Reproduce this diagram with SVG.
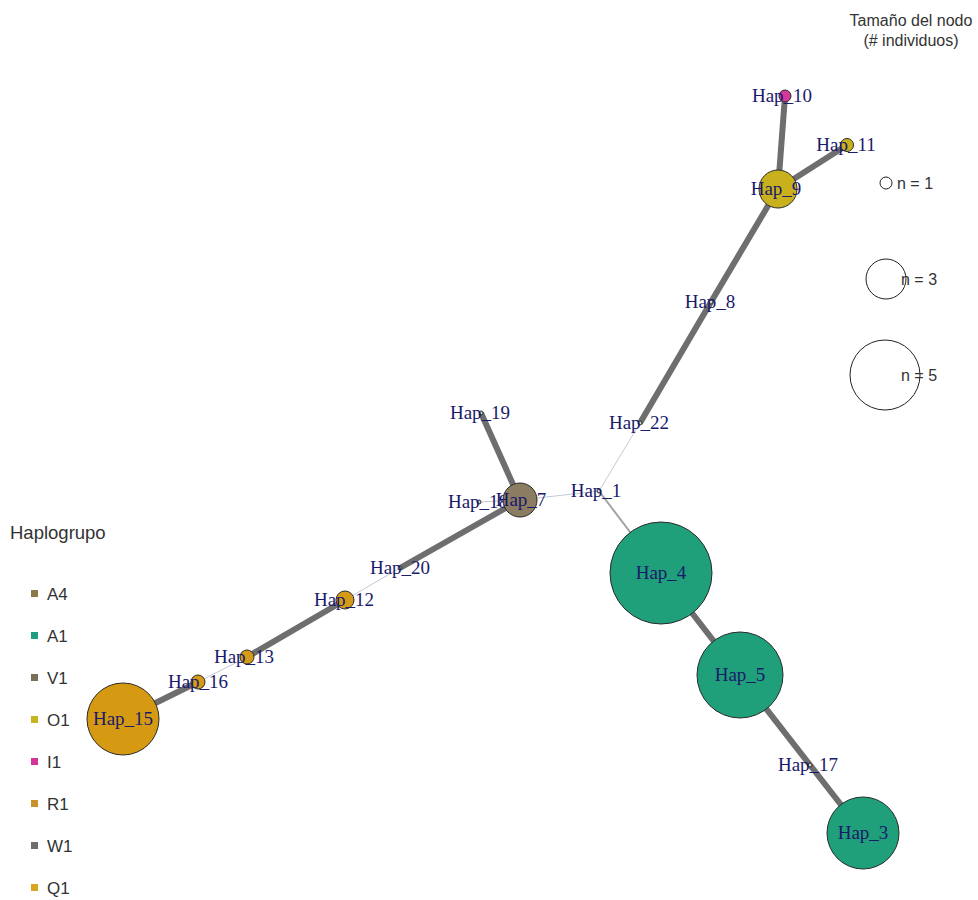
<svg xmlns="http://www.w3.org/2000/svg" width="978" height="900" viewBox="0 0 978 900">
<style>
.thick{stroke:#6e6e6e;stroke-width:6;fill:none}
.thin{stroke:#c5c9d6;stroke-width:1;fill:none}
.mid{stroke:#a3a3a3;stroke-width:2;fill:none}
.node{stroke:#2a2a2a;stroke-width:1}
.dot{fill:#d8d8c8;stroke:#2a2a2a;stroke-width:1}
.lbl{font-family:"Liberation Serif","Times New Roman",serif;font-size:19px;fill:#1a1a6a;text-anchor:middle}
.leg{font-family:"Liberation Sans",Arial,sans-serif;font-size:16px;fill:#333}
.item{font-family:"Liberation Sans",Arial,sans-serif;font-size:17px;fill:#333}
.ring{fill:none;stroke:#222;stroke-width:1}
</style>
<rect width="978" height="900" fill="#ffffff"/>
<g id="connectors">
<line class="thick" x1="785" y1="96" x2="778" y2="189"/>
<line class="thick" x1="847" y1="145" x2="778" y2="189"/>
<line class="thick" x1="778" y1="189" x2="711" y2="302"/>
<line class="thick" x1="711" y1="302" x2="640" y2="423"/>
<line class="thin" x1="640" y1="423" x2="599" y2="491"/>
<line class="thin" x1="599" y1="491" x2="520" y2="500"/>
<line class="mid" x1="599" y1="491" x2="661" y2="573"/>
<line class="thick" x1="520" y1="500" x2="481" y2="413"/>
<line class="thin" x1="479" y1="502" x2="520" y2="500"/>
<line class="thick" x1="520" y1="500" x2="400" y2="568"/>
<line class="thin" x1="400" y1="568" x2="345" y2="600"/>
<line class="thick" x1="345" y1="600" x2="247" y2="657"/>
<line class="thin" x1="247" y1="657" x2="198" y2="682"/>
<line class="thick" x1="198" y1="682" x2="123" y2="719"/>
<line class="thick" x1="661" y1="573" x2="740" y2="675"/>
<line class="thick" x1="740" y1="675" x2="810" y2="765"/>
<line class="thick" x1="810" y1="765" x2="863" y2="833"/>
</g>
<g id="hap10"><circle class="node" cx="785" cy="96" r="6" fill="#d3399b"/><text class="lbl" x="782" y="102">Hap_10</text></g>
<g id="hap11"><circle class="node" cx="847" cy="145" r="6.5" fill="#c9b11e"/><text class="lbl" x="846" y="151">Hap_11</text></g>
<g id="hap9"><circle class="node" cx="778" cy="189" r="19" fill="#c9b11e"/><text class="lbl" x="776" y="195">Hap_9</text></g>
<g id="hap8"><circle class="dot" cx="711" cy="302" r="2"/><text class="lbl" x="710" y="308">Hap_8</text></g>
<g id="hap22"><circle class="dot" cx="640" cy="423" r="2"/><text class="lbl" x="639" y="429">Hap_22</text></g>
<g id="hap1"><circle class="dot" cx="599" cy="491" r="2"/><text class="lbl" x="596" y="497">Hap_1</text></g>
<g id="hap19"><circle class="dot" cx="481" cy="413" r="2"/><text class="lbl" x="480" y="419">Hap_19</text></g>
<g id="hap18"><circle class="dot" cx="479" cy="502" r="2"/><text class="lbl" x="478" y="508">Hap_18</text></g>
<g id="hap7"><circle class="node" cx="520" cy="500" r="17" fill="#8b7c62"/><text class="lbl" x="521" y="506">Hap_7</text></g>
<g id="hap20"><circle class="dot" cx="400" cy="568" r="2"/><text class="lbl" x="400" y="574">Hap_20</text></g>
<g id="hap12"><circle class="node" cx="345" cy="600" r="9" fill="#d59a18"/><text class="lbl" x="344" y="606">Hap_12</text></g>
<g id="hap13"><circle class="node" cx="247" cy="657" r="7" fill="#d59a18"/><text class="lbl" x="244" y="663">Hap_13</text></g>
<g id="hap16"><circle class="node" cx="198" cy="682" r="7" fill="#d59a18"/><text class="lbl" x="198" y="688">Hap_16</text></g>
<g id="hap15"><circle class="node" cx="123" cy="719" r="36" fill="#d59a12"/><text class="lbl" x="123" y="725">Hap_15</text></g>
<g id="hap4"><circle class="node" cx="661" cy="573" r="51" fill="#20a07a"/><text class="lbl" x="661" y="579">Hap_4</text></g>
<g id="hap5"><circle class="node" cx="740" cy="675" r="43" fill="#20a07a"/><text class="lbl" x="740" y="681">Hap_5</text></g>
<g id="hap17"><circle class="dot" cx="810" cy="765" r="2"/><text class="lbl" x="808" y="771">Hap_17</text></g>
<g id="hap3"><circle class="node" cx="863" cy="833" r="36" fill="#20a07a"/><text class="lbl" x="863" y="839">Hap_3</text></g>
<g id="size-legend">
<text class="leg" x="911" y="26" text-anchor="middle">Tamaño del nodo</text>
<text class="leg" x="911" y="46" text-anchor="middle">(# individuos)</text>
<circle class="ring" cx="886" cy="183" r="6"/><text class="leg" x="897" y="189">n = 1</text>
<circle class="ring" cx="886" cy="279" r="20"/><text class="leg" x="901" y="285">n = 3</text>
<circle class="ring" cx="885" cy="375" r="35"/><text class="leg" x="901" y="381">n = 5</text>
</g>
<g id="haplogroup-legend">
<text class="leg" x="10" y="539" style="font-size:18.5px">Haplogrupo</text>
<rect x="31" y="590" width="7" height="7" fill="#8c7a4a"/><text class="item" x="47" y="600">A4</text>
<rect x="31" y="632" width="7" height="7" fill="#1f9e84"/><text class="item" x="47" y="642">A1</text>
<rect x="31" y="674" width="7" height="7" fill="#7b705a"/><text class="item" x="47" y="684">V1</text>
<rect x="31" y="716" width="7" height="7" fill="#c6b51e"/><text class="item" x="47" y="726">O1</text>
<rect x="31" y="758" width="7" height="7" fill="#d4359a"/><text class="item" x="47" y="768">I1</text>
<rect x="31" y="800" width="7" height="7" fill="#c8912a"/><text class="item" x="47" y="810">R1</text>
<rect x="31" y="842" width="7" height="7" fill="#6e6e6e"/><text class="item" x="47" y="852">W1</text>
<rect x="31" y="884" width="7" height="7" fill="#d9a520"/><text class="item" x="47" y="894">Q1</text>
</g>
</svg>
